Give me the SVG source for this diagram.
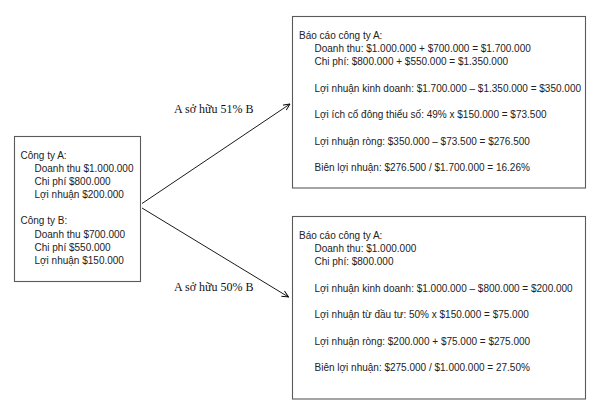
<svg xmlns="http://www.w3.org/2000/svg" width="600" height="405" viewBox="0 0 600 405">
<defs>
<marker id="arr" markerWidth="8" markerHeight="8" refX="7" refY="4" orient="auto" markerUnits="userSpaceOnUse">
<path d="M0.5,1 L7,4 L0.5,7" fill="none" stroke="#000" stroke-width="0.9"/>
</marker>
<style>
.box{fill:#fff;stroke:#5a5a5a;stroke-width:1.1}
.t{font-family:"Liberation Sans",Arial,sans-serif;font-size:10px;fill:#222}
.lbl{font-family:"Liberation Serif","Times New Roman",serif;font-size:12px;fill:#111}
.conn{stroke:#000;stroke-width:0.9;fill:none}
</style>
</defs>
<rect width="600" height="405" fill="#fff"/>
<g id="left">
<rect class="box" x="14.5" y="136.5" width="126" height="145"/>
<text class="t" x="20.5" y="159">Công ty A:</text>
<text class="t" x="34.5" y="172">Doanh thu $1.000.000</text>
<text class="t" x="34.5" y="185">Chi phí $800.000</text>
<text class="t" x="34.5" y="198">Lợi nhuận $200.000</text>
<text class="t" x="20.5" y="224">Công ty B:</text>
<text class="t" x="34.5" y="237.5">Doanh thu $700.000</text>
<text class="t" x="34.5" y="250.5">Chi phí $550.000</text>
<text class="t" x="34.5" y="263.5">Lợi nhuận $150.000</text>
</g>
<g id="top">
<rect class="box" x="292.5" y="16.5" width="293" height="171.5"/>
<text class="t" x="299" y="39">Báo cáo công ty A:</text>
<text class="t" x="314.5" y="52.2">Doanh thu: $1.000.000 + $700.000 = $1.700.000</text>
<text class="t" x="314.5" y="65.4">Chi phí: $800.000 + $550.000 = $1.350.000</text>
<text class="t" x="314.5" y="91.8">Lợi nhuận kinh doanh: $1.700.000 – $1.350.000 = $350.000</text>
<text class="t" x="314.5" y="118.2">Lợi ích cổ đông thiểu số: 49% x $150.000 = $73.500</text>
<text class="t" x="314.5" y="144.6">Lợi nhuận ròng: $350.000 – $73.500 = $276.500</text>
<text class="t" x="314.5" y="171">Biên lợi nhuận: $276.500 / $1.700.000 = 16.26%</text>
</g>
<g id="bottom">
<rect class="box" x="292.5" y="216.5" width="293" height="182.5"/>
<text class="t" x="299" y="239">Báo cáo công ty A:</text>
<text class="t" x="314.5" y="252.2">Doanh thu: $1.000.000</text>
<text class="t" x="314.5" y="265.4">Chi phí: $800.000</text>
<text class="t" x="314.5" y="291.8">Lợi nhuận kinh doanh: $1.000.000 – $800.000 = $200.000</text>
<text class="t" x="314.5" y="318.2">Lợi nhuận từ đầu tư: 50% x $150.000 = $75.000</text>
<text class="t" x="314.5" y="344.6">Lợi nhuận ròng: $200.000 + $75.000 = $275.000</text>
<text class="t" x="314.5" y="371">Biên lợi nhuận: $275.000 / $1.000.000 = 27.50%</text>
</g>
<g id="connectors">
<line class="conn" x1="142" y1="203.5" x2="290" y2="104" marker-end="url(#arr)"/>
<line class="conn" x1="142" y1="208" x2="288.5" y2="297" marker-end="url(#arr)"/>
<text class="lbl" x="174" y="113">A sở hữu 51% B</text>
<text class="lbl" x="174" y="291">A sở hữu 50% B</text>
</g>
</svg>
